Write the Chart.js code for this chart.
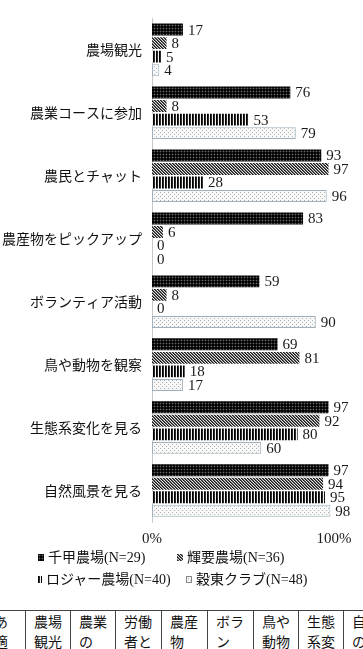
<!DOCTYPE html>
<html><head><meta charset="utf-8">
<script src="https://cdn.jsdelivr.net/npm/chart.js@4/dist/chart.umd.min.js"></script>
<style>
html,body{margin:0;padding:0;background:#fff;width:363px;height:649px;overflow:hidden;position:relative;}
#wrap{position:absolute;left:0;top:0;width:363px;height:550px;}
.lg{position:absolute;font-family:"Liberation Serif","Noto Sans CJK JP",serif;font-size:14px;color:#111;white-space:nowrap;line-height:18px;}
.lg canvas{display:inline-block;vertical-align:middle;margin-right:4px;position:relative;top:-1px;}
#tbl{position:absolute;left:0;top:610px;width:363px;height:39px;border-top:1px solid #444;overflow:hidden;}
.cell{position:absolute;top:0;height:60px;border-left:1px solid #444;font-family:"Noto Sans CJK JP",serif;font-size:14px;line-height:20px;color:#111;padding-left:8px;box-sizing:border-box;width:46px;}
</style></head><body>
<div id="wrap"><canvas id="c" width="363" height="550"></canvas></div>
<div id="legend"></div>
<div id="tbl"></div>
<script>
const categories = ['農場観光','農業コースに参加','農民とチャット','農産物をピックアップ','ボランティア活動','鳥や動物を観察','生態系変化を見る','自然風景を見る'];
const seriesNames = ['千甲農場(N=29)','輝要農場(N=36)','ロジャー農場(N=40)','穀東クラブ(N=48)'];
const senkou = [17,76,93,83,59,69,97,97];
const kiyou = [8,8,97,6,8,81,92,94];
const roger = [5,53,28,0,0,18,80,95];
const kokutou = [4,79,96,0,90,17,60,98];
const xTickLabels = ['0%','100%'];
const tableHeads = [['あ','適'],['農場','観光'],['農業','の'],['労働','者と'],['農産','物'],['ボラ','ン'],['鳥や','動物'],['生態','系変'],['自','の']];

function makeTile(w,h,fn){
  const c=document.createElement('canvas');c.width=w;c.height=h;
  const x=c.getContext('2d');
  for(let i=0;i<w;i++)for(let j=0;j<h;j++){x.fillStyle=fn(i,j);x.fillRect(i,j,1,1);}
  return c;
}
const tiles=[
  makeTile(3,3,(i,j)=>(i===1&&j===1)?'#6a6a6a':((i+j)%2===0?'#000':'#1e1e1e')),
  makeTile(3,3,(i,j)=>{const k=((i-j)%3+3)%3;return k===0?'#1a1a1a':(k===1?'#606060':'#e2e2e2');}),
  makeTile(3,1,(i,j)=>i===0?'#000':(i===1?'#2a2a2a':'#f4f4f4')),
  makeTile(4,4,(i,j)=>((i===0&&j===0)||(i===2&&j===2))?'#b0b0b0':'#f8f8f8')
];
const pctx=document.getElementById('c').getContext('2d');
const patterns=tiles.map(t=>pctx.createPattern(t,'repeat'));
const borders=['rgba(0,0,0,0)','rgba(0,0,0,0)','rgba(0,0,0,0)','#9fb0bc'];
const bw=[0,0,0,1];
const allData=[senkou,kiyou,roger,kokutou];

const labelPlugin={
  id:'vals',
  afterDatasetsDraw(chart){
    const ctx=chart.ctx;ctx.save();
    ctx.font='15px "Liberation Serif", serif';ctx.fillStyle='#1a1a1a';
    ctx.textAlign='left';ctx.textBaseline='middle';
    chart.data.datasets.forEach((ds,i)=>{
      chart.getDatasetMeta(i).data.forEach((bar,j)=>{
        ctx.fillText(String(ds.data[j]),bar.x+5,bar.y+1);
      });
    });
    ctx.restore();
  }
};

new Chart(document.getElementById('c'),{
  type:'bar',
  data:{labels:categories,datasets:allData.map((d,i)=>({label:seriesNames[i],data:d,backgroundColor:patterns[i],borderColor:borders[i],borderWidth:bw[i],borderSkipped:false,categoryPercentage:0.86,barPercentage:0.88}))},
  options:{
    indexAxis:'y',responsive:false,animation:false,
    layout:{padding:{top:8,right:29,left:0,bottom:0}},
    plugins:{legend:{display:false},tooltip:{enabled:false}},
    scales:{
      x:{min:0,max:100,
        grid:{display:false,drawTicks:false},border:{display:false},
        ticks:{stepSize:100,padding:8,color:'#1a1a1a',font:{family:'"Liberation Serif", serif',size:15},
          callback:(v)=>v===0?xTickLabels[0]:(v===100?xTickLabels[1]:'')},
        afterFit(s){s.height=28;}
      },
      y:{grid:{display:false,drawTicks:false},border:{display:true,color:'#c8c8c8',width:1},
        ticks:{padding:10,color:'#111',font:{family:'"Noto Sans CJK JP", sans-serif',size:14}},
        afterFit(s){s.width=152;}
      }
    }
  },
  plugins:[labelPlugin]
});

// legend (HTML)
const lgPos=[[38,549],[177,549],[38,571],[186,571]];
const lg=document.getElementById('legend');
seriesNames.forEach((n,i)=>{
  const d=document.createElement('div');d.className='lg';
  d.style.left=lgPos[i][0]+'px';d.style.top=lgPos[i][1]+'px';
  const sw=document.createElement('canvas');sw.width=i===2?4:6;sw.height=7;
  const sx=sw.getContext('2d');sx.fillStyle=sx.createPattern(tiles[i],'repeat');sx.fillRect(0,0,sw.width,7);
  if(i===3){sx.strokeStyle='#888';sx.strokeRect(0.5,0.5,5,6);}
  d.appendChild(sw);
  d.appendChild(document.createTextNode(n));
  lg.appendChild(d);
});

// table fragment
const lines=[-20,25,70,115,161,207,253,298,343];
const tb=document.getElementById('tbl');
tableHeads.forEach((h,i)=>{
  const c=document.createElement('div');c.className='cell';
  c.style.left=lines[i]+'px';
  if(i===0){c.style.borderLeft='none';c.style.paddingLeft='14px';}
  c.innerHTML=h[0]+'<br>'+h[1];
  tb.appendChild(c);
});
</script>
</body></html>
